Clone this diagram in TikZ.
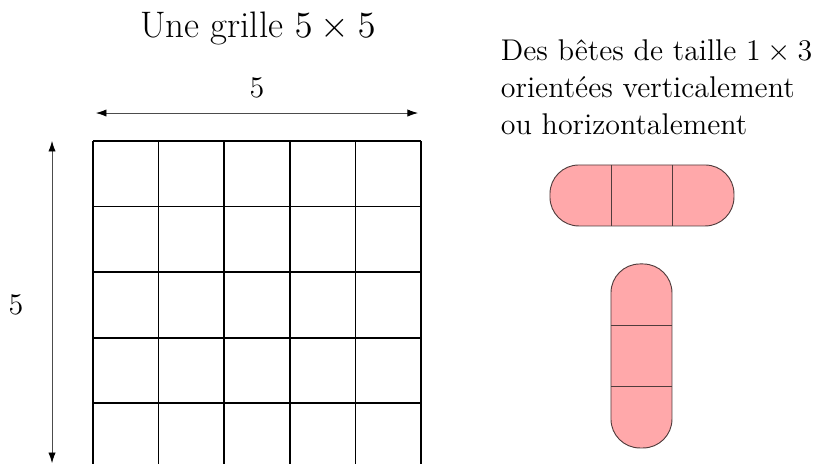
\RequirePackage{fix-cm}
\documentclass[tikz,border=0pt]{standalone}
\usetikzlibrary{arrows.meta}
\definecolor{betefill}{RGB}{255,168,170}
\definecolor{beteline}{RGB}{80,60,60}
\tikzset{
  gridline/.style={line width=0.75pt,black},
  dimarrow/.style={line width=0.3pt,black!70,{Latex[length=1.6mm,width=1.1mm,black]}-{Latex[length=1.6mm,width=1.1mm,black]}},
  bete/.style={fill=betefill,draw=beteline,line width=0.4pt,rounded corners=0.44cm},
  divider/.style={draw=beteline,line width=0.4pt},
  lbl/.style={font=\fontsize{13}{16}\selectfont,inner sep=0pt},
}
\begin{document}
\begin{tikzpicture}
\useasboundingbox (0,0) rectangle (12.409,-7.073);
% title
\node[font=\fontsize{16}{19}\selectfont,inner sep=0pt] (title) at (3.933,-0.44) {Une grille $5\times5$};
% grid
\begin{scope}
\clip (0,0) rectangle (12.409,-7.073);
\begin{scope}[shift={(1.418,-7.149)}]
\draw[gridline] (0,0) grid[step=1] (5,5);
\end{scope}
\end{scope}
% dimensions
\coordinate (hl) at (1.463,-1.723);
\coordinate (hr) at (6.372,-1.723);
\draw[dimarrow] (hl) -- (hr);
\node[lbl] (h5) at (3.918,-1.341) {5};
\coordinate (vt) at (0.793,-2.149);
\coordinate (vb) at (0.793,-7.06);
\draw[dimarrow] (vt) -- (vb);
\node[lbl] (v5) at (0.244,-4.65) {5};
% text
\node[lbl,anchor=north west,align=left] (desc) at (7.63,-0.60) {Des bêtes de taille $1\times3$\\orientées verticalement\\ou horizontalement};
% horizontal bete
\draw[bete] (8.384,-2.515) rectangle (11.189,-3.445);
\draw[divider] (9.314,-2.515) -- (9.314,-3.445);
\draw[divider] (10.244,-2.515) -- (10.244,-3.445);
% vertical bete
\draw[bete] (9.314,-4.024) rectangle (10.244,-6.829);
\draw[divider] (9.314,-4.954) -- (10.244,-4.954);
\draw[divider] (9.314,-5.884) -- (10.244,-5.884);
\end{tikzpicture}
\end{document}
